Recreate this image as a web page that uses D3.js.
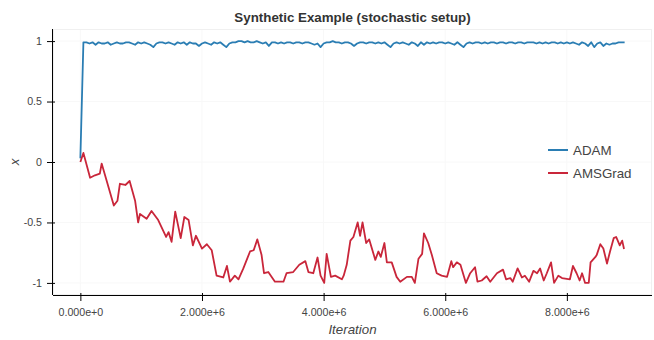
<!DOCTYPE html>
<html>
<head>
<meta charset="utf-8">
<script src="https://cdn.jsdelivr.net/npm/d3@7"></script>
<style>
  body { margin: 0; background: #fff; }
  svg text { font-family: "Liberation Sans", Arial, Helvetica, sans-serif; }
</style>
</head>
<body>
<div id="chart"></div>
<script>
// series names and colours
var SERIES = ["ADAM", "AMSGrad"];
var COLORS = ["#2a7db3", "#c9263a"];

// ADAM: one reading every 50,000 iterations (value of x)
var ADAM_STEP = 50000;
var adamValues = [
  0.03,
  0.99, 0.99, 0.98, 0.99, 0.97, 0.99, 0.98, 0.98, 0.99, 0.97,
  0.98, 0.99, 0.98, 0.98, 0.99, 0.99, 0.98, 0.97, 0.99, 0.98,
  0.99, 0.98, 0.97, 0.95, 0.98, 0.99, 0.99, 0.98, 0.99, 0.98,
  0.97, 0.99, 0.98, 0.99, 0.97, 0.99, 0.98, 0.98, 0.96, 0.98,
  0.99, 0.98, 0.97, 0.99, 0.98, 0.99, 0.97, 0.95, 0.98, 0.99,
  0.99, 1.00, 1.00, 0.99, 1.00, 0.99, 0.99, 1.00, 0.99, 0.98,
  0.99, 0.96, 0.99, 0.99, 0.98, 0.99, 0.98, 0.99, 0.99, 0.98,
  0.99, 0.99, 0.98, 0.99, 0.99, 0.98, 0.97, 0.98, 0.95, 0.98,
  0.99, 0.99, 1.00, 0.99, 0.99, 0.98, 0.99, 0.99, 0.98, 0.96,
  0.98, 0.99, 0.99, 0.98, 0.99, 0.99, 0.98, 0.99, 0.98, 0.99,
  0.97, 0.95, 0.98, 0.99, 0.98, 0.99, 0.98, 0.97, 0.99, 0.98,
  0.96, 0.99, 0.97, 0.99, 0.98, 0.99, 0.98, 0.99, 0.99, 0.98,
  0.99, 0.98, 0.97, 0.99, 0.97, 0.95, 0.98, 0.99, 0.98, 0.99,
  0.99, 0.98, 0.99, 0.98, 0.99, 0.99, 0.98, 0.99, 0.99, 0.98,
  0.99, 0.99, 0.98, 0.99, 0.99, 0.98, 0.99, 0.99, 0.99, 0.98,
  0.99, 0.98, 0.99, 0.98, 0.99, 0.99, 0.98, 0.99, 0.98, 0.99,
  0.98, 0.99, 0.98, 0.97, 0.99, 0.98, 0.96, 0.99, 0.95, 0.98,
  0.99, 0.96, 0.98, 0.97, 0.98, 0.98, 0.99, 0.99, 0.99
];

// AMSGrad: readings, iteration in millions
var amsIter = [
  0.00, 0.05, 0.16, 0.24, 0.32, 0.35, 0.43, 0.55, 0.61, 0.65,
  0.74, 0.81, 0.90, 0.95, 0.98, 1.09, 1.17, 1.28, 1.41, 1.45,
  1.50, 1.56, 1.65, 1.71, 1.78, 1.85, 1.90, 2.00, 2.08, 2.16,
  2.24, 2.35, 2.41, 2.46, 2.54, 2.60, 2.68, 2.79, 2.85, 2.91,
  2.98, 3.02, 3.09, 3.20, 3.34, 3.39, 3.50, 3.60, 3.70, 3.75,
  3.83, 3.90, 3.95, 4.01, 4.05, 4.12, 4.19, 4.30, 4.33, 4.38,
  4.44, 4.49, 4.56, 4.60, 4.64, 4.70, 4.75, 4.85, 4.90, 4.94,
  5.00, 5.04, 5.12, 5.20, 5.26, 5.37, 5.45, 5.50, 5.56, 5.62,
  5.65, 5.72, 5.78, 5.86, 5.94, 6.03, 6.10, 6.13, 6.19, 6.25,
  6.34, 6.41, 6.49, 6.53, 6.60, 6.68, 6.74, 6.85, 6.95, 7.00,
  7.07, 7.11, 7.19, 7.26, 7.31, 7.38, 7.45, 7.51, 7.56, 7.62,
  7.67, 7.74, 7.79, 7.86, 7.92, 8.05, 8.10, 8.16, 8.21, 8.25,
  8.30, 8.36, 8.39, 8.47, 8.49, 8.55, 8.60, 8.66, 8.71, 8.77,
  8.81, 8.87, 8.91, 8.94
];
var amsValues = [
  0.00, 0.075, -0.13, -0.11, -0.096, -0.013, -0.15, -0.36, -0.32, -0.18,
  -0.19, -0.157, -0.32, -0.50, -0.43, -0.47, -0.405, -0.48, -0.62, -0.58,
  -0.66, -0.41, -0.63, -0.455, -0.48, -0.69, -0.61, -0.716, -0.68, -0.73,
  -0.94, -0.955, -0.86, -0.99, -0.94, -0.97, -0.88, -0.74, -0.73, -0.64,
  -0.77, -0.92, -0.91, -0.99, -0.99, -0.92, -0.91, -0.85, -0.82, -0.91,
  -0.92, -0.79, -0.94, -1.00, -0.76, -0.95, -0.94, -0.97, -0.94, -0.85,
  -0.65, -0.62, -0.50, -0.61, -0.50, -0.67, -0.64, -0.81, -0.74, -0.785,
  -0.67, -0.83, -0.83, -0.95, -0.99, -0.95, -0.95, -1.00, -0.80, -0.76,
  -0.59, -0.67, -0.77, -0.92, -0.94, -0.95, -0.82, -0.87, -0.83, -0.85,
  -1.00, -0.92, -0.87, -0.99, -0.98, -0.945, -0.99, -0.92, -0.89, -0.97,
  -0.96, -0.99, -0.88, -0.955, -0.94, -0.99, -0.90, -0.92, -0.88, -0.98,
  -0.92, -0.83, -1.00, -0.94, -0.96, -0.97, -0.86, -0.92, -0.98, -0.92,
  -1.00, -1.00, -0.83, -0.785, -0.77, -0.68, -0.715, -0.84, -0.74, -0.63,
  -0.62, -0.69, -0.65, -0.72
];

// axis ticks
var xTicks = [0, 2e6, 4e6, 6e6, 8e6];
var yTicks = [-1, -0.5, 0, 0.5, 1];
var xDomain = [-0.45e6, 9.4e6];
var yDomain = [-1.1, 1.1];

var W = 654, H = 340;
var plot = { left: 53, right: 652, top: 29, bottom: 295 };

var adam = adamValues.map(function(v, i) { return { x: i * ADAM_STEP, y: v }; });
var ams = amsValues.map(function(v, i) { return { x: amsIter[i] * 1e6, y: v }; });

var svg = d3.select("#chart").append("svg")
  .attr("width", W)
  .attr("height", H);

var x = d3.scaleLinear().domain(xDomain).range([plot.left, plot.right]);
var y = d3.scaleLinear().domain(yDomain).range([plot.bottom, plot.top]);

// very faint grid + outline
var grid = svg.append("g");
grid.selectAll(".gx").data(xTicks).enter().append("line")
  .attr("x1", d => x(d)).attr("x2", d => x(d))
  .attr("y1", plot.top).attr("y2", plot.bottom)
  .attr("stroke", "#f8f8f8");
grid.selectAll(".gy").data(yTicks).enter().append("line")
  .attr("x1", plot.left).attr("x2", plot.right)
  .attr("y1", d => y(d)).attr("y2", d => y(d))
  .attr("stroke", "#f8f8f8");
svg.append("rect")
  .attr("x", plot.left + 0.5).attr("y", plot.top + 0.5)
  .attr("width", plot.right - plot.left - 1).attr("height", plot.bottom - plot.top - 1)
  .attr("fill", "none").attr("stroke", "#f0f0f0");

// lines
var line = d3.line().x(d => x(d.x)).y(d => y(d.y));
[adam, ams].forEach(function(data, i) {
  svg.append("path")
    .datum(data)
    .attr("fill", "none")
    .attr("stroke", COLORS[i])
    .attr("stroke-width", 1.8)
    .attr("stroke-linejoin", "round")
    .attr("d", line);
});

// X axis
var xMinor = d3.range(-0.4e6, 9.4e6, 0.4e6);
var gx = svg.append("g").attr("transform", "translate(0," + plot.bottom + ")");
gx.call(d3.axisBottom(x).tickValues(xMinor).tickSize(4).tickFormat(""));
gx.call(d3.axisBottom(x).tickValues(xTicks).tickSizeInner(6).tickSizeOuter(0).tickPadding(7)
  .tickFormat(d3.format(".3e")));
gx.selectAll("path").attr("d", "M" + plot.left + ",0.5H" + plot.right).attr("stroke", "#000");
gx.selectAll(".tick line").attr("stroke", "#000");
gx.selectAll(".tick").filter(d => xTicks.indexOf(d) >= 0).select("line").attr("y1", -2);
gx.selectAll("text")
  .attr("fill", "#444")
  .style("font-size", "10.67px");

// Y axis
var yMinor = d3.range(-11, 12).map(d => d / 10);
var gy = svg.append("g").attr("transform", "translate(" + plot.left + ",0)");
gy.call(d3.axisLeft(y).tickValues(yMinor).tickSize(4).tickFormat(""));
gy.call(d3.axisLeft(y).tickValues(yTicks).tickSizeInner(6).tickSizeOuter(0).tickPadding(5)
  .tickFormat(d => String(d)));
gy.selectAll("path").attr("d", "M-0.5," + plot.top + "V" + plot.bottom).attr("stroke", "#000");
gy.selectAll(".tick line").attr("stroke", "#000");
gy.selectAll(".tick").filter(d => yTicks.indexOf(d) >= 0).select("line").attr("x1", 2);
gy.selectAll("text")
  .attr("fill", "#444")
  .style("font-size", "10.67px");

// title and axis labels
svg.append("text")
  .attr("x", (plot.left + plot.right) / 2)
  .attr("y", 22)
  .attr("text-anchor", "middle")
  .style("font-size", "13.33px")
  .style("font-weight", "bold")
  .attr("fill", "#333")
  .text("Synthetic Example (stochastic setup)");

svg.append("text")
  .attr("x", (plot.left + plot.right) / 2)
  .attr("y", 334)
  .attr("text-anchor", "middle")
  .style("font-size", "13.33px")
  .style("font-style", "italic")
  .attr("fill", "#444")
  .text("Iteration");

svg.append("text")
  .attr("transform", "translate(18.5," + y(0) + ") rotate(-90)")
  .attr("text-anchor", "middle")
  .style("font-size", "13.33px")
  .style("font-style", "italic")
  .attr("fill", "#444")
  .text("x");

// legend
var legend = svg.append("g").attr("transform", "translate(548,150)");
SERIES.forEach(function(name, i) {
  var row = legend.append("g").attr("transform", "translate(0," + i * 23 + ")");
  row.append("line")
    .attr("x1", 0).attr("x2", 20)
    .attr("stroke", COLORS[i]).attr("stroke-width", 2);
  row.append("text")
    .attr("x", 25).attr("dy", "0.35em")
    .style("font-size", "13.33px")
    .attr("fill", "#444")
    .text(name);
});
</script>
</body>
</html>
